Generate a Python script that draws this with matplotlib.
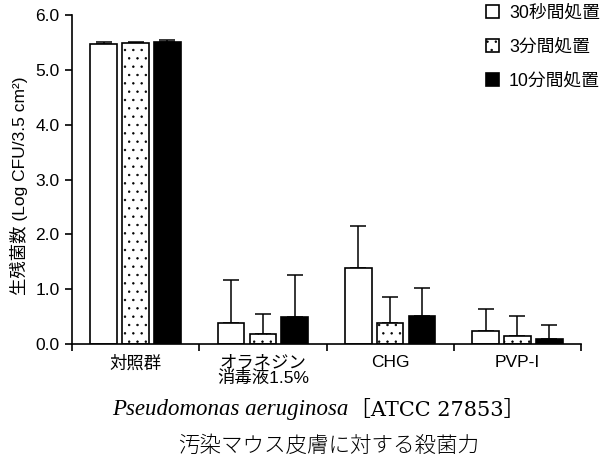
import matplotlib
matplotlib.use("Agg")
import matplotlib.pyplot as plt
import numpy as np

plt.rcParams['font.family'] = ['Liberation Sans', 'Noto Sans CJK JP']
plt.rcParams['hatch.linewidth'] = 0.5

categories = ["対照群", "オラネジン\n消毒液1.5%", "CHG", "PVP-I"]
series_names = ["30秒間処置", "3分間処置", "10分間処置"]
means = [
    [5.48, 0.39, 1.38, 0.24],
    [5.49, 0.19, 0.39, 0.15],
    [5.50, 0.49, 0.51, 0.10],
]
errors = [
    [0.03, 0.77, 0.77, 0.40],
    [0.02, 0.35, 0.47, 0.36],
    [0.05, 0.76, 0.51, 0.25],
]
y_ticks = [0.0, 1.0, 2.0, 3.0, 4.0, 5.0, 6.0]

fills = ["white", "white", "black"]
hatches = [None, "..", None]

fig = plt.figure(figsize=(6.09, 4.68), dpi=100)
ax = fig.add_axes([72 / 609, 124 / 468, 509 / 609, 329 / 468])

x = np.arange(len(categories))
width = 0.21
step = 0.25
for i in range(3):
    pos = x + (i - 1) * step
    ax.bar(pos, means[i], width, color=fills[i], edgecolor="black",
           linewidth=1.2, hatch=hatches[i], label=series_names[i], zorder=2)
    ax.errorbar(pos, means[i], yerr=[np.zeros(len(categories)), errors[i]],
                fmt="none", ecolor="black", elinewidth=1.1, capsize=5.5,
                capthick=1.1, zorder=1)

ax.set_xlim(-0.5, len(categories) - 0.5)
ax.set_ylim(0, 6)
ax.set_yticks(y_ticks)
ax.set_yticklabels([f"{v:.1f}" for v in y_ticks], fontsize=12.5)
ax.set_xticks(x)
ax.set_xticklabels(categories, fontsize=12.5, linespacing=0.95)
ax.tick_params(axis="x", length=0, pad=8)
ax.set_xticks(np.arange(-0.5, len(categories)), minor=True)
ax.tick_params(axis="x", which="minor", length=5, width=1.2, direction="out")
ax.tick_params(axis="y", length=5, width=1.2, direction="out", pad=4)
for s in ["top", "right"]:
    ax.spines[s].set_visible(False)
for s in ["left", "bottom"]:
    ax.spines[s].set_linewidth(1.2)

ax.set_ylabel("生残菌数 (Log CFU/3.5 cm²)", fontsize=12.5)
ax.yaxis.set_label_coords(-44 / 509, (344 - 186) / 329)

fig.legend(loc="upper left", bbox_to_anchor=(486 / 609, 1 - 5 / 468),
           frameon=False, fontsize=12.8, handlelength=0.75, handleheight=0.75,
           handletextpad=0.55, labelspacing=0.95, borderaxespad=0,
           borderpad=0)

fig.text(348 / 609, 1 - 410 / 468, "Pseudomonas aeruginosa",
         ha="right", va="center", fontsize=16.5, style="italic",
         family=["Liberation Serif"])
fig.text(350 / 609, 1 - 410 / 468, "［ATCC 27853］",
         ha="left", va="center", fontsize=15,
         family=["DejaVu Serif", "Noto Sans CJK JP"])
fig.text(329 / 609, 1 - 446 / 468, "汚染マウス皮膚に対する殺菌力",
         ha="center", va="center", fontsize=15.5,
         family=["Noto Sans CJK JP"], fontweight="light")

fig.savefig("out.png", dpi=100)
